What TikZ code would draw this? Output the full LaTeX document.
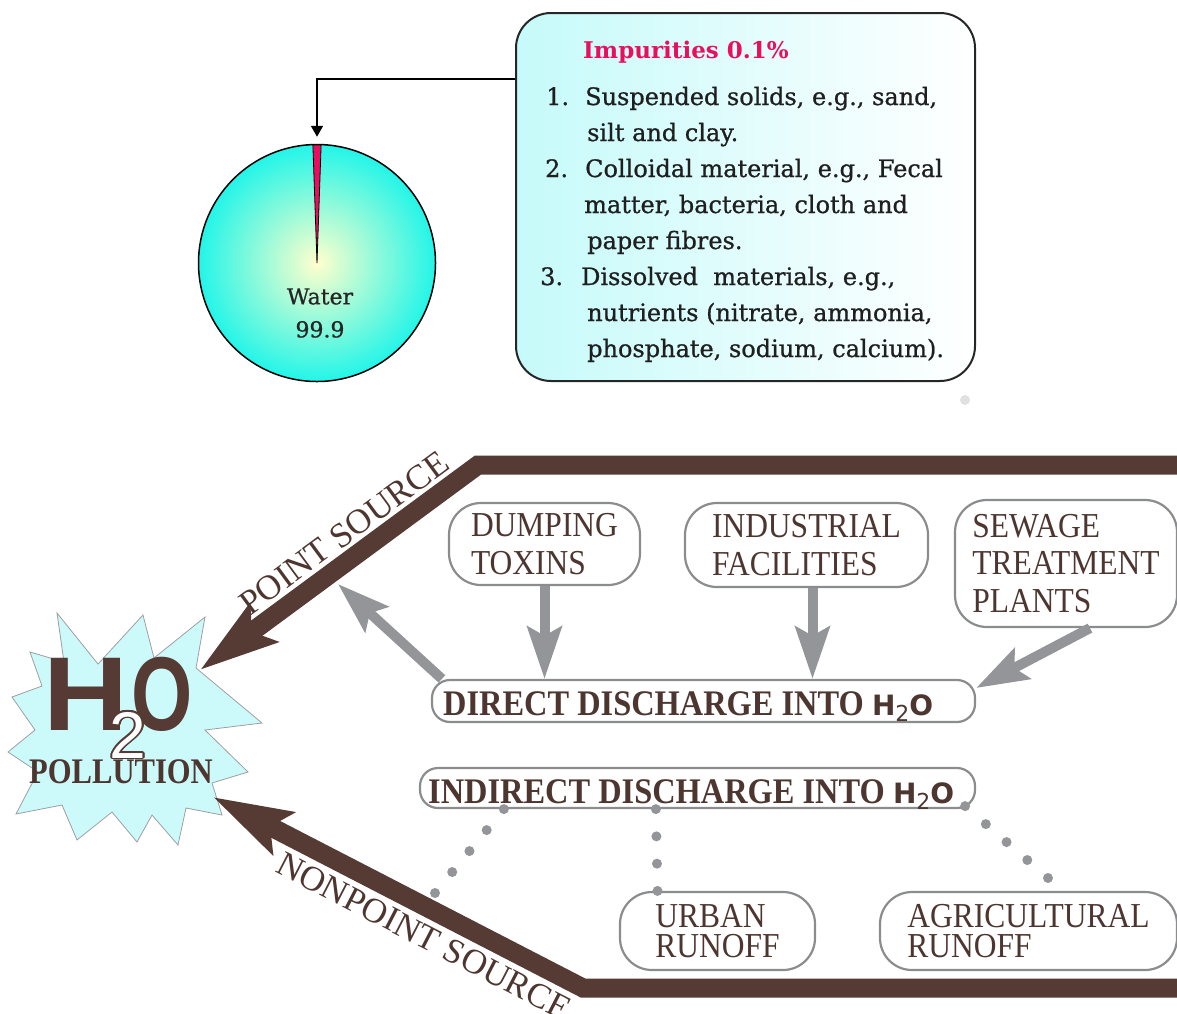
\documentclass[tikz,border=0pt]{standalone}
\usepackage{fontspec}
\setmainfont{DejaVu Serif}
\newfontfamily\impfam[FakeBold=0.8]{DejaVu Serif}
\newfontfamily\lsr{Liberation Serif}
\newfontfamily\lsrc[FakeStretch=0.9]{Liberation Serif}
\newfontfamily\lsrp[FakeStretch=0.85]{Liberation Serif}
\newfontfamily\lsansH[FakeStretch=1.12]{Liberation Sans}
\newfontfamily\lsansO[FakeStretch=0.75]{Liberation Sans}
\newfontfamily\lsans{Liberation Sans}
\newfontfamily\dsans{DejaVu Sans}
\usetikzlibrary{arrows.meta,calc}
\definecolor{brn}{RGB}{85,59,52}
\definecolor{txtb}{RGB}{78,54,48}
\definecolor{gry}{RGB}{147,149,152}
\definecolor{bgry}{RGB}{138,140,142}
\definecolor{crim}{RGB}{232,16,92}
\definecolor{pieout}{RGB}{35,245,232}
\definecolor{piein}{RGB}{255,255,205}
\definecolor{boxcy}{RGB}{198,250,250}
\definecolor{starf}{RGB}{204,250,250}
\newcommand\impf{\impfam\fontsize{24}{28}\selectfont}
\newcommand\htwoo{{\dsans\bfseries\fontsize{28}{28}\selectfont H\raisebox{-6pt}{\mdseries\fontsize{22}{22}\selectfont 2}O}}
\begin{document}
\begin{tikzpicture}[x=1pt,y=-1pt,
  pbox/.style={draw=bgry, line width=2.2pt, rounded corners=32pt, fill=white, inner sep=0pt, align=left, text=txtb, font=\lsrc\fontsize{35}{37.5}\selectfont},
  qbox/.style={pbox, font=\lsrc\fontsize{35}{30}\selectfont},
  dbox/.style={draw=bgry, line width=2.2pt, rounded corners=18pt, fill=white, inner sep=0pt},
  dtext/.style={anchor=base west, inner sep=0pt, text=txtb, font=\lsrc\bfseries\fontsize{36}{36}\selectfont},
  impline/.style={anchor=base west, inner sep=0pt, font=\impf, text=black!88},
  grayarrow/.style={draw=gry, line width=10pt, -{Stealth[length=52pt,width=34pt,inset=9pt]}},
  brownarrow/.style={draw=brn, line width=19pt, line join=miter, -{Stealth[length=78pt,width=46pt,inset=14pt]}},
  dotdot/.style={fill=gry},
  slant/.style={text=txtb, inner sep=0pt, font=\lsr\fontsize{35}{35}\selectfont}
]
\useasboundingbox (0,0) rectangle (1177,1013);

% ---------- pie chart ----------
\node[circle, draw=black, line width=1.5pt, minimum size=237pt, inner sep=0pt,
      inner color=piein, outer color=pieout] (pie) at (317,263) {};
\filldraw[fill=crim, draw=black, line width=0.8pt]
  (pie.center) -- ++(-92:118) arc[start angle=-92, end angle=-88, radius=118] -- cycle;
\node[align=center, inner sep=0pt, text=black!85, font=\impfam\fontsize{22}{33}\selectfont] (wlab) at (320,313) {Water\\99.9};

% ---------- impurities box ----------
\node[draw=black!85, line width=2pt, rounded corners=35pt, minimum width=459pt, minimum height=368pt,
      inner sep=0pt, left color=boxcy, right color=white] (imp) at (745.5,197) {};
\node[anchor=base west, inner sep=0pt, text=crim, font=\bfseries\fontsize{23}{23}\selectfont] (title) at (583,58) {Impurities 0.1\%};
\node[impline] (n1) at (546,105) {1.};
\node[impline] (l1) at (585,105) {Suspended solids, e.g., sand,};
\node[impline] (l2) at (587,141) {silt and clay.};
\node[impline] (n2) at (545,177) {2.};
\node[impline] (l3) at (585,177) {Colloidal material, e.g., Fecal};
\node[impline] (l4) at (584,213) {matter, bacteria, cloth and};
\node[impline] (l5) at (587,249) {paper fibres.};
\node[impline] (n3) at (540,285) {3.};
\node[impline] (l6) at (581,285) {Dissolved\ \ materials, e.g.,};
\node[impline] (l7) at (587,321) {nutrients (nitrate, ammonia,};
\node[impline] (l8) at (587,357) {phosphate, sodium, calcium).};
\coordinate (arrowrow) at (0,79);
\draw[line width=1.6pt, -{Triangle[length=11pt,width=12pt]}] (imp.west |- arrowrow) -| ([yshift=7pt]pie.north);
\fill[black!12] (965,400) circle (5);

% ---------- star ----------
\filldraw[fill=starf, draw=gray!75, line width=0.8pt]
  (57,613) -- (98,664) -- (143,615) -- (154,658) -- (205,617) -- (196,668) -- (262,723) -- (205,730)
  -- (248,772) -- (212,783) -- (222,815) -- (186,808) -- (178,845) -- (152,815) -- (137,842)
  -- (112,812) -- (77,840) -- (62,805) -- (16,814) -- (38,772) -- (8,752) -- (35,730)
  -- (12,697) -- (42,686) -- (30,652) -- (64,662) -- cycle;

% ---------- brown arrows ----------
\coordinate (topR) at (1190,465);
\coordinate (topC) at (478,465);
\coordinate (psTip) at (200,670);
\coordinate (botR) at (1190,988);
\coordinate (botC) at (583,988);
\coordinate (npsTip) at (213,797);
\draw[brownarrow] (topR) -- (topC) -- (psTip);
\draw[brownarrow] (botR) -- (botC) -- (npsTip);
\node[slant, rotate=36.4] (pslab) at (344,533) {POINT SOURCE};
\node[slant, rotate=-27.3] (npslab) at (424,936) {NONPOINT SOURCE};

% ---------- H2O ----------
\node[inner sep=0pt, text=brn, font=\lsansH\bfseries\fontsize{105}{105}\selectfont] (bigH) at (86,694) {H};
\node[inner sep=0pt, text=brn, font=\lsansO\bfseries\fontsize{105}{105}\selectfont] (bigO) at (162,694) {O};
\foreach \a in {0,30,...,330}{
  \node[inner sep=0pt, text=brn, font=\lsans\fontsize{66}{66}\selectfont, shift={(\a:1.8)}] (two\a) at (128,735) {2};
}
\node[inner sep=0pt, text=white, font=\lsans\fontsize{66}{66}\selectfont] (two) at (128,735) {2};
\node[inner sep=0pt, text=txtb, font=\lsrp\bfseries\fontsize{36}{36}\selectfont] (poll) at (121,772) {POLLUTION};

% ---------- source boxes ----------
\node[pbox, minimum width=191pt, minimum height=82pt] (dump) at (544.5,544) {DUMPING\\TOXINS};
\node[pbox, minimum width=243pt, minimum height=84pt] (indus) at (806.5,545) {INDUSTRIAL\\FACILITIES};
\node[pbox, minimum width=222pt, minimum height=127pt] (sew) at (1066,563.5) {SEWAGE\\TREATMENT\\PLANTS};

\node[dbox, minimum width=543pt, minimum height=42pt] (direct) at (703.5,701) {};
\node[dtext] (dlab) at (443,715) {DIRECT DISCHARGE INTO \htwoo};
\node[dbox, minimum width=555pt, minimum height=40pt] (indirect) at (697.5,788) {};
\node[dtext] (ilab) at (428,803) {INDIRECT DISCHARGE INTO \htwoo};

\node[qbox, minimum width=195pt, minimum height=78pt] (urban) at (717.5,931) {URBAN\\RUNOFF};
\node[qbox, minimum width=297pt, minimum height=78pt] (agri) at (1028.5,931) {AGRICULTURAL\\RUNOFF};

% ---------- gray arrows ----------
\draw[grayarrow] (dump.south) -- (dump.south |- direct.north);
\draw[grayarrow] ([xshift=6pt]indus.south) -- ([xshift=6pt]indus.south |- direct.north);
\draw[grayarrow] ([xshift=24pt]sew.south) -- ([yshift=13pt]direct.east);
\coordinate (psGray) at (338,584);
\draw[grayarrow] ([xshift=11pt]direct.north west) -- (psGray);

% ---------- dotted links ----------
\coordinate (dotLa) at ([xshift=85pt]indirect.south west);
\coordinate (dotL) at (435,893);
\coordinate (dotMa) at ([xshift=237pt]indirect.south west);
\coordinate (dotM) at ([xshift=-60pt]urban.north);
\coordinate (dotRa) at ([xshift=-11pt,yshift=3pt]indirect.south east);
\coordinate (dotR) at (1048,878);
\foreach \t in {0,0.25,0.5,0.75,1}{
  \fill[dotdot] ($(dotLa)!\t!(dotL)$) circle (5);
  \fill[dotdot] ($(dotRa)!\t!(dotR)$) circle (5);
}
\foreach \t in {0,0.3333,0.6667,1}{
  \fill[dotdot] ($(dotMa)!\t!(dotM)$) circle (5);
}
\end{tikzpicture}
\end{document}
